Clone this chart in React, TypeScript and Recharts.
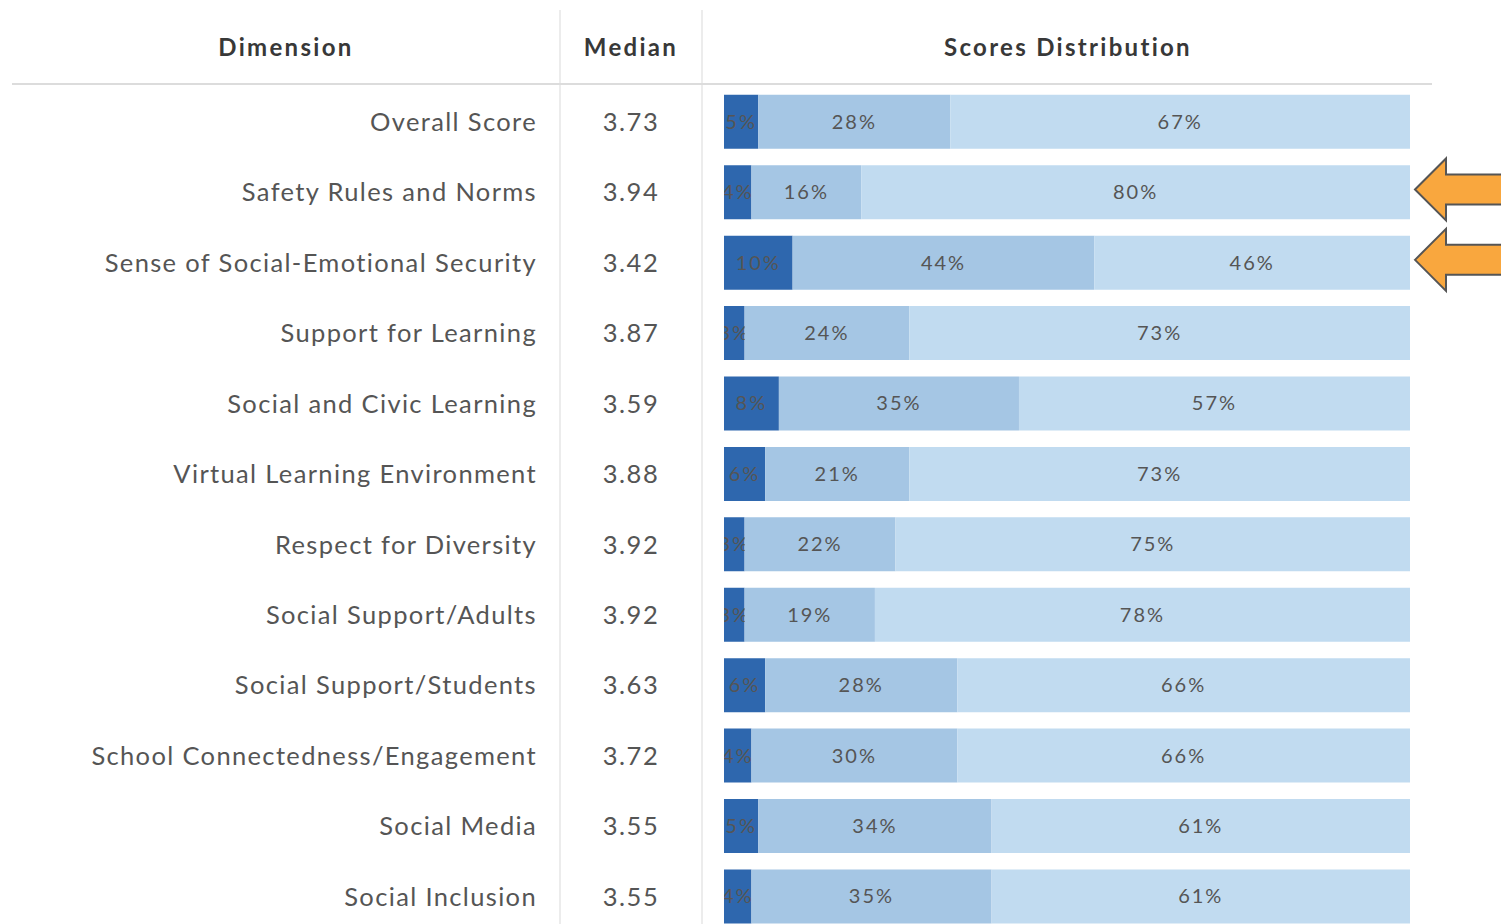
import { BarChart, Bar, XAxis, YAxis, LabelList, Customized } from "recharts";

const dimensions = [
  "Overall Score",
  "Safety Rules and Norms",
  "Sense of Social-Emotional Security",
  "Support for Learning",
  "Social and Civic Learning",
  "Virtual Learning Environment",
  "Respect for Diversity",
  "Social Support/Adults",
  "Social Support/Students",
  "School Connectedness/Engagement",
  "Social Media",
  "Social Inclusion",
];
const medians = ["3.73", "3.94", "3.42", "3.87", "3.59", "3.88", "3.92", "3.92", "3.63", "3.72", "3.55", "3.55"];
const lowPct = [5, 4, 10, 3, 8, 6, 3, 3, 6, 4, 5, 4];
const midPct = [28, 16, 44, 24, 35, 21, 22, 19, 28, 30, 34, 35];
const highPct = [67, 80, 46, 73, 57, 73, 75, 78, 66, 66, 61, 61];
const flagged = ["Safety Rules and Norms", "Sense of Social-Emotional Security"];

const data = dimensions.map((name, i) => ({
  name,
  low: lowPct[i],
  mid: midPct[i],
  high: highPct[i],
}));

const FONT = "Lato, 'Open Sans', sans-serif";
const TEXT = "#555555";

const DimTick = (props: any) => {
  const { y, payload } = props;
  const i = payload.index;
  const name = dimensions[i];
  return (
    <g>
      <text x={537} y={y} dy={9} textAnchor="end" fill={TEXT}
        style={{ fontFamily: FONT, fontSize: 25.5, letterSpacing: 1.35 }}>
        {name}
      </text>
      <text x={631} y={y} dy={9} textAnchor="middle" fill={TEXT}
        style={{ fontFamily: FONT, fontSize: 25.5, letterSpacing: 1.5 }}>
        {medians[i]}
      </text>
      {flagged.includes(name) && (
        <path
          d={`M1415 ${y - 3} L1446 ${y - 34} L1446 ${y - 18} L1510 ${y - 18} L1510 ${y + 12} L1446 ${y + 12} L1446 ${y + 28} Z`}
          fill="#f9a73e"
          stroke="#555"
          strokeWidth={2}
        />
      )}
    </g>
  );
};

const SegLabel = (props: any) => {
  const { x, y, width, height, value } = props;
  return (
    <svg x={x} y={y} width={width} height={height} overflow="hidden">
      <text x={width / 2} y={height / 2} dy={7} textAnchor="middle" fill={TEXT}
        style={{ fontFamily: FONT, fontSize: 20, letterSpacing: 2 }}>
        {`${value}%`}
      </text>
    </svg>
  );
};

const Header = () => (
  <g>
    <line x1={560} y1={10} x2={560} y2={940} stroke="#ececec" strokeWidth={2} />
    <line x1={702} y1={10} x2={702} y2={940} stroke="#ececec" strokeWidth={2} />
    <line x1={12} y1={84} x2={1432} y2={84} stroke="#dcdcdc" strokeWidth={2} />
    <g style={{ fontFamily: FONT, fontSize: 24, fontWeight: 700, letterSpacing: 2.3 }} fill="#383838">
      <text x={286} y={56} textAnchor="middle">Dimension</text>
      <text x={631} y={56} textAnchor="middle">Median</text>
      <text x={1068} y={56} textAnchor="middle">Scores Distribution</text>
    </g>
  </g>
);

export default function App() {
  return (
    <div style={{ position: "absolute", left: 0, top: 0, width: 1501, height: 924, overflow: "hidden", background: "#fff" }}>
      <BarChart
        width={1501}
        height={940}
        data={data}
        layout="vertical"
        margin={{ top: 86.8, right: 91, bottom: 8.2, left: 0 }}
      >
        <Customized component={Header} />
        <XAxis type="number" domain={[0, 100]} hide />
        <YAxis
          type="category"
          dataKey="name"
          width={724}
          axisLine={false}
          tickLine={false}
          interval={0}
          tick={<DimTick />}
        />
        <Bar dataKey="low" stackId="a" fill="#2e67ae" barSize={54} isAnimationActive={false}>
          <LabelList dataKey="low" content={<SegLabel />} />
        </Bar>
        <Bar dataKey="mid" stackId="a" fill="#a5c6e4" barSize={54} isAnimationActive={false}>
          <LabelList dataKey="mid" content={<SegLabel />} />
        </Bar>
        <Bar dataKey="high" stackId="a" fill="#c1dbf0" barSize={54} isAnimationActive={false}>
          <LabelList dataKey="high" content={<SegLabel />} />
        </Bar>
      </BarChart>
    </div>
  );
}
